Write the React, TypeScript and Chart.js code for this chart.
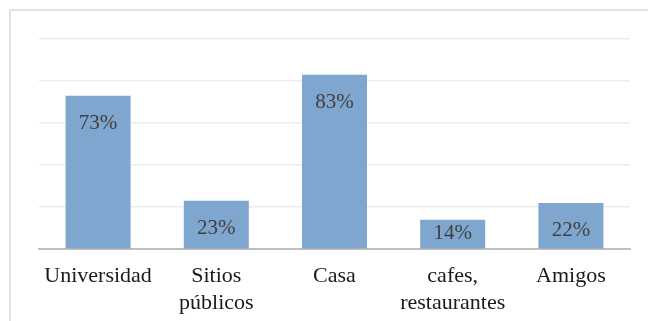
import React, { useEffect, useRef } from "react";
import { Chart, registerables } from "chart.js";

Chart.register(...registerables);

const categories: (string | string[])[] = [
  "Universidad",
  ["Sitios", "públicos"],
  "Casa",
  ["cafes,", "restaurantes"],
  "Amigos",
];
const values: number[] = [73, 23, 83, 14, 22];
const valueLabels: string[] = ["73%", "23%", "83%", "14%", "22%"];

const FONT = '"Liberation Serif", "Times New Roman", serif';

const framePlugin = {
  id: "frame",
  beforeDraw(chart: any) {
    const ctx = chart.ctx;
    ctx.save();
    ctx.fillStyle = "#ffffff";
    ctx.fillRect(0, 0, chart.width, chart.height);
    ctx.strokeStyle = "#d9d9d9";
    ctx.lineWidth = 1.5;
    ctx.beginPath();
    ctx.moveTo(10, chart.height);
    ctx.lineTo(10, 10);
    ctx.lineTo(chart.width, 10);
    ctx.stroke();
    ctx.restore();
  },
};

const labelPlugin = {
  id: "barLabels",
  afterDatasetsDraw(chart: any) {
    const ctx = chart.ctx;
    const meta = chart.getDatasetMeta(0);
    const base = chart.scales.y.getPixelForValue(0);
    ctx.save();
    ctx.font = `21px ${FONT}`;
    ctx.fillStyle = "#404040";
    ctx.textAlign = "center";
    ctx.textBaseline = "middle";
    meta.data.forEach((bar: any, i: number) => {
      const top = bar.y;
      const cy = Math.min(top + 27.5, base - 16);
      ctx.fillText(valueLabels[i], bar.x, cy);
    });
    ctx.restore();
  },
};

export default function App() {
  const ref = useRef<HTMLCanvasElement>(null);
  useEffect(() => {
    let chart: any = null;
    let cancelled = false;
    const make = () => {
      if (cancelled || !ref.current) return;
      chart = new Chart(ref.current, {
        type: "bar",
        data: {
          labels: categories,
          datasets: [
            {
              data: values,
              backgroundColor: "#7fa6cf",
              borderWidth: 0,
              barPercentage: 0.55,
              categoryPercentage: 1,
            },
          ],
        },
        options: {
          animation: false,
          responsive: false,
          maintainAspectRatio: false,
          layout: { padding: { left: 39, right: 18, top: 39, bottom: -9 } },
          plugins: { legend: { display: false }, tooltip: { enabled: false } },
          scales: {
            x: {
              grid: { display: false, drawTicks: false },
              border: { display: true, color: "#bfbfbf", width: 2 },
              ticks: {
                color: "#1a1a1a",
                font: { family: FONT, size: 22, lineHeight: 1.2 },
                padding: 14,
                maxRotation: 0,
                autoSkip: false,
              },
            },
            y: {
              min: 0,
              max: 100,
              ticks: { display: false, stepSize: 20 },
              grid: { color: "#ececec", lineWidth: 1.5, drawTicks: false },
              border: { display: false },
            },
          },
        },
        plugins: [framePlugin, labelPlugin],
      });
    };
    const fontsApi: any = (document as any).fonts;
    if (fontsApi && fontsApi.load) {
      Promise.all([
        fontsApi.load('22px "Liberation Serif"', "Universidad%"),
        fontsApi.load('21px "Liberation Serif"', "73%"),
      ]).then(make, make);
    } else {
      make();
    }
    return () => {
      cancelled = true;
      if (chart) chart.destroy();
    };
  }, []);
  return (
    <div style={{ position: "fixed", left: 0, top: 0, width: 648, height: 321 }}>
      <span style={{ fontFamily: "Liberation Serif", position: "absolute", left: -1000, top: 0 }}>Universidad 73%</span>
      <canvas ref={ref} width={648} height={321} style={{ width: 648, height: 321, display: "block" }} />
    </div>
  );
}
